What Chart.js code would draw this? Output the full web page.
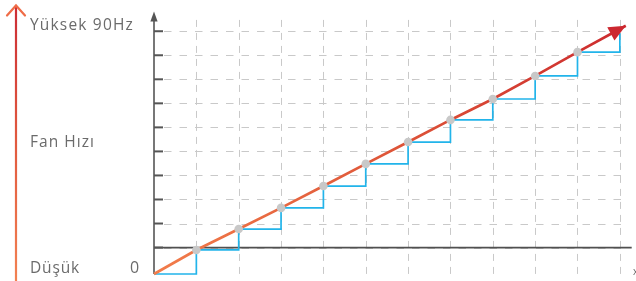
<!DOCTYPE html>
<html>
<head>
<meta charset="utf-8">
<script src="https://cdn.jsdelivr.net/npm/chart.js@4.4.0/dist/chart.umd.min.js"></script>
<style>
html,body{margin:0;padding:0;background:#fff;}
#wrap{position:relative;width:636px;height:281px;}
</style>
</head>
<body>
<div id="wrap"><canvas id="chart" width="636" height="281"></canvas></div>
<script>
// fan speed line, last point is the arrow tip
const speedX = [0, 1, 2, 3, 4, 5, 6, 7, 8, 9, 10, 11.14];
const speedY = [-0.1, 0.9, 1.77, 2.65, 3.56, 4.48, 5.39, 6.31, 7.18, 8.14, 9.13, 10.23];

// blue staircase
const stairX = [0, 1, 2, 3, 4, 5, 6, 7, 8, 9, 10, 11];
const stairY = [-0.1, 0.9, 1.77, 2.65, 3.56, 4.48, 5.39, 6.31, 7.18, 8.14, 9.13, 9.92];

// grey dots on the line
const dotX = [1, 2, 3, 4, 5, 6, 7, 8, 9, 10];
const dotY = [0.9, 1.77, 2.65, 3.56, 4.48, 5.39, 6.31, 7.18, 8.14, 9.13];

// grid positions
const gridX = [1, 2, 3, 4, 5, 6, 7, 8, 9, 10, 11];
const gridY = [1, 2, 3, 4, 5, 6, 7, 8, 9, 10];

const textHigh = "Yüksek 90Hz";
const textMid = "Fan Hızı";
const textLow = "Düşük";
const textZero = "0";
const textEnd = "x";

function pts(xs, ys){
  return xs.map((x,i)=>({x:x, y:ys[i]}));
}

// fit text to a target width with letter spacing
function fitText(c, str, x, y, target){
  c.letterSpacing = "0px";
  const w = c.measureText(str).width;
  const sp = (target - w) / Math.max(1, str.length);
  c.letterSpacing = sp.toFixed(2) + "px";
  c.fillText(str, x, y);
  c.letterSpacing = "0px";
}

const decor = {
  id: "decor",
  beforeDatasetsDraw(chart){
    const c = chart.ctx;
    const xs = chart.scales.x, ys = chart.scales.y;
    const x0 = xs.getPixelForValue(0);
    c.save();

    // dashed grid
    c.strokeStyle = "#c9c9c9";
    c.lineWidth = 1;
    c.setLineDash([7.5, 8]);
    gridY.forEach(v=>{
      const py = Math.round(ys.getPixelForValue(v)) + 0.5;
      c.beginPath();
      c.moveTo(x0 + 10, py);
      c.lineTo(xs.getPixelForValue(11.05), py);
      c.stroke();
    });
    c.setLineDash([7, 6]);
    gridX.forEach(v=>{
      const px = Math.round(xs.getPixelForValue(v)) + 0.5;
      c.beginPath();
      c.moveTo(px, ys.getPixelForValue(10.47));
      c.lineTo(px, ys.getPixelForValue(-0.15));
      c.stroke();
    });
    c.setLineDash([]);

    // dark base line at level 1
    const yb = ys.getPixelForValue(1);
    c.strokeStyle = "#505050";
    c.lineWidth = 1.8;
    c.beginPath();
    c.moveTo(x0, yb);
    c.lineTo(chart.chartArea.right, yb);
    c.stroke();

    // y axis with arrow and ticks
    c.strokeStyle = "#555";
    c.fillStyle = "#555";
    c.lineWidth = 1.6;
    c.beginPath();
    c.moveTo(x0, chart.chartArea.bottom);
    c.lineTo(x0, chart.chartArea.top + 6);
    c.stroke();
    c.beginPath();
    c.moveTo(x0, chart.chartArea.top - 0.5);
    c.lineTo(x0 + 3.6, chart.chartArea.top + 9.5);
    c.lineTo(x0 - 3.6, chart.chartArea.top + 9.5);
    c.closePath();
    c.fill();
    c.lineWidth = 2;
    gridY.forEach(v=>{
      const py = ys.getPixelForValue(v);
      c.beginPath();
      c.moveTo(x0, py);
      c.lineTo(x0 + 9, py);
      c.stroke();
    });
    c.restore();
  },
  afterDatasetsDraw(chart){
    const c = chart.ctx;
    c.save();

    // arrow head on the speed line
    const m = chart.getDatasetMeta(1).data;
    const p1 = m[m.length-1], p0 = m[m.length-2];
    const a = Math.atan2(p1.y - p0.y, p1.x - p0.x);
    const L = 17, H = 7.5;
    c.fillStyle = "#cc2830";
    c.beginPath();
    c.moveTo(p1.x, p1.y);
    c.lineTo(p1.x - L*Math.cos(a) + H*Math.sin(a), p1.y - L*Math.sin(a) - H*Math.cos(a));
    c.lineTo(p1.x - L*Math.cos(a) - H*Math.sin(a), p1.y - L*Math.sin(a) + H*Math.cos(a));
    c.closePath();
    c.fill();

    // left gradient arrow
    const g = c.createLinearGradient(0, 6, 0, 281);
    g.addColorStop(0, "#cc2d35");
    g.addColorStop(0.5, "#e15a3f");
    g.addColorStop(1, "#f28152");
    c.strokeStyle = g;
    c.lineWidth = 2.2;
    c.beginPath();
    c.moveTo(16, 281);
    c.lineTo(16, 6);
    c.stroke();
    c.strokeStyle = "#ef6c47";
    c.lineCap = "round";
    c.beginPath();
    c.moveTo(7, 15.5);
    c.lineTo(16, 5.5);
    c.lineTo(25, 15.5);
    c.stroke();

    // texts
    c.fillStyle = "#6b6b6b";
    c.textBaseline = "alphabetic";
    c.font = "15.5px 'Open Sans'";
    fitText(c, textHigh, 30, 30, 104);
    fitText(c, textMid, 30, 146.5, 65);
    fitText(c, textLow, 30, 273, 50);
    c.font = "16px 'Open Sans'";
    c.fillText(textZero, 130, 273);
    c.font = "10px 'Open Sans'";
    c.fillText(textEnd, 633, 275);
    c.restore();
  }
};

const ctx = document.getElementById("chart");

const chart = new Chart(ctx, {
  type: "line",
  data: {
    datasets: [
      {
        label: "stair",
        data: pts(stairX, stairY),
        stepped: "before",
        borderColor: "#22b4ea",
        borderWidth: 1.7,
        pointRadius: 0,
        clip: 6,
        order: 3
      },
      {
        label: "speed",
        data: pts(speedX, speedY),
        borderColor: (cx)=>{
          const a = cx.chart.chartArea;
          if(!a) return "#e0553a";
          const gr = cx.chart.ctx.createLinearGradient(a.left, a.bottom, a.left + 476, 26);
          gr.addColorStop(0, "#f27d4b");
          gr.addColorStop(0.5, "#de5538");
          gr.addColorStop(1, "#cc2a2e");
          return gr;
        },
        borderWidth: 2.7,
        pointRadius: 0,
        clip: 6,
        order: 2
      },
      {
        label: "dots",
        data: pts(dotX, dotY),
        showLine: false,
        pointRadius: 4.3,
        pointBackgroundColor: "#c8c8c8",
        pointBorderWidth: 0,
        order: 1
      }
    ]
  },
  options: {
    responsive: false,
    animation: false,
    layout: { padding: { left: 154, right: 0, top: 12, bottom: 7 } },
    plugins: { legend: { display: false }, tooltip: { enabled: false } },
    scales: {
      x: { type: "linear", min: 0, max: 11.28, display: false },
      y: { type: "linear", min: -0.1, max: 10.8, display: false }
    }
  },
  plugins: [decor]
});
</script>
</body>
</html>
